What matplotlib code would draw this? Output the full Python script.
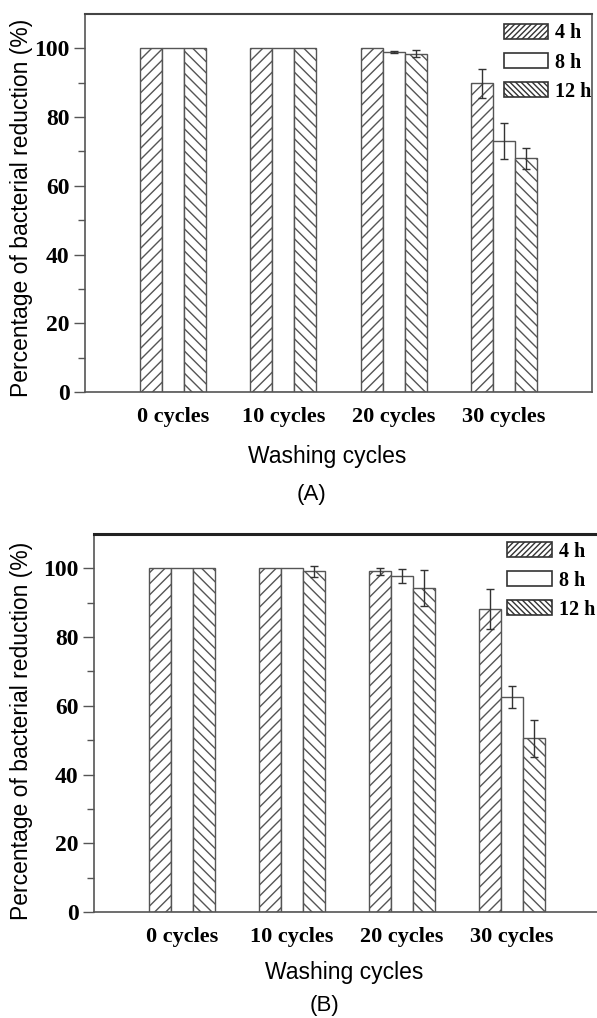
import matplotlib
matplotlib.use("Agg")
import matplotlib.pyplot as plt
from matplotlib.patches import Patch
import numpy as np

# data
groups = ["0 cycles", "10 cycles", "20 cycles", "30 cycles"]
series = ["4 h", "8 h", "12 h"]

a_4h = [100, 100, 100, 89.8]
a_8h = [100, 100, 98.9, 73.0]
a_12h = [100, 100, 98.5, 68.0]
a_err_4h = [0, 0, 0, 4.1]
a_err_8h = [0, 0, 0.3, 5.2]
a_err_12h = [0, 0, 1.0, 3.0]

b_4h = [100, 100, 99.2, 88.3]
b_8h = [100, 100, 97.8, 62.6]
b_12h = [100, 99.2, 94.2, 50.6]
b_err_4h = [0, 0, 1.0, 5.8]
b_err_8h = [0, 0, 2.0, 3.2]
b_err_12h = [0, 1.6, 5.2, 5.4]

hatches = ["///", "", "\\\\\\"]
legend_hatches = ["//////", "", "\\\\\\\\\\\\"]
edge = "#555555"
serif = "Liberation Serif"
sans = "Liberation Sans"

fig = plt.figure(figsize=(5.97, 10.18), dpi=100)


def draw_panel(ax, vals, errs, xmax, box, leg_anchor):
    x = np.arange(len(groups))
    w = 0.2
    for i, (v, e) in enumerate(zip(vals, errs)):
        pos = x + (i - 1) * w
        ax.bar(pos, v, w, facecolor="white", edgecolor=edge, hatch=hatches[i],
               linewidth=1.0, zorder=2)
        mask = np.array(e) > 0
        ax.errorbar(pos[mask], np.array(v)[mask], yerr=np.array(e)[mask], fmt="none",
                    ecolor="#333333", elinewidth=1.0, capsize=3, capthick=1.0, zorder=3)
    ax.set_xlim(-0.8, xmax)
    ax.set_ylim(0, 110)
    ax.set_xticks(x)
    ax.set_xticklabels(groups, fontfamily=serif, fontweight="bold", fontsize=16)
    ax.tick_params(axis="x", length=0, pad=11)
    ax.set_yticks([0, 20, 40, 60, 80, 100])
    ax.set_yticks([10, 30, 50, 70, 90], minor=True)
    ax.set_yticklabels(["0", "20", "40", "60", "80", "100"], fontfamily=serif,
                       fontweight="bold", fontsize=17)
    ax.tick_params(axis="y", which="major", length=8, width=1, color=edge, pad=3)
    ax.tick_params(axis="y", which="minor", length=5, width=1, color=edge)
    for s in ["left", "bottom"]:
        ax.spines[s].set_color(edge)
        ax.spines[s].set_linewidth(1.2)
    if box:
        ax.spines["top"].set_color("#444444")
        ax.spines["right"].set_color(edge)
        ax.spines["top"].set_linewidth(1.5)
        ax.spines["right"].set_linewidth(1.2)
    else:
        ax.spines["right"].set_visible(False)
        ax.spines["top"].set_color("#222222")
        ax.spines["top"].set_linewidth(2.2)
    ax.set_ylabel("Percentage of bacterial reduction (%)", fontfamily=sans, fontsize=16.5)
    handles = [Patch(facecolor="white", edgecolor="#333333", hatch=legend_hatches[i],
                     linewidth=1.2, label=series[i]) for i in range(3)]
    ax.legend(handles=handles, loc="upper left", bbox_to_anchor=leg_anchor, frameon=False,
              handlelength=2.2, handleheight=0.8, labelspacing=0.45, handletextpad=0.35,
              borderpad=0, borderaxespad=0,
              prop={"family": serif, "weight": "bold", "size": 14.5})


ax_a = fig.add_axes([85 / 597, 1 - 392 / 1018, 507 / 597, 378 / 1018])
draw_panel(ax_a, [a_4h, a_8h, a_12h], [a_err_4h, a_err_8h, a_err_12h], 3.8, True,
           (0.826, 0.975))
ax_a.yaxis.set_label_coords(-0.103, 0.487)
fig.text(327 / 597, 1 - 457 / 1018, "Washing cycles", fontfamily=sans, fontsize=16.5,
         ha="center", va="center")
fig.text(312 / 597, 1 - 494 / 1018, "(A)", fontfamily=sans, fontsize=16,
         ha="center", va="center")

ax_b = fig.add_axes([94 / 597, 1 - 912 / 1018, 503 / 597, 378 / 1018])
draw_panel(ax_b, [b_4h, b_8h, b_12h], [b_err_4h, b_err_8h, b_err_12h], -0.8 + 503 / 110, False,
           (0.822, 0.98))
ax_b.yaxis.set_label_coords(-0.121, 0.48)
fig.text(344 / 597, 1 - 972 / 1018, "Washing cycles", fontfamily=sans, fontsize=16.5,
         ha="center", va="center")
fig.text(325 / 597, 1 - 1006 / 1018, "(B)", fontfamily=sans, fontsize=16,
         ha="center", va="center")

fig.savefig("out.png", dpi=100)
